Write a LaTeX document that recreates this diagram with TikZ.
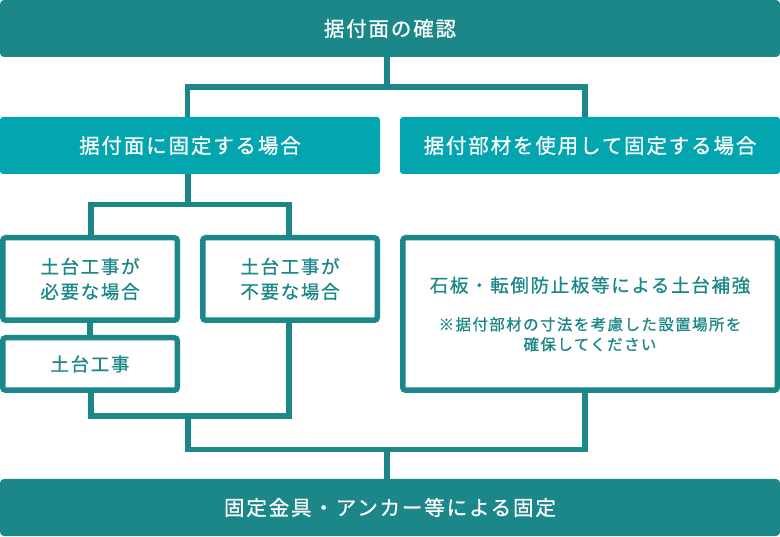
\documentclass[tikz,border=0pt]{standalone}
\usepackage{fontspec}
\setmainfont[LetterSpace=9, FakeBold=0.8]{Noto Sans CJK JP}
\usetikzlibrary{positioning}
\definecolor{darkteal}{RGB}{27,135,137}
\definecolor{brightteal}{RGB}{3,165,175}
\newcommand{\notefont}{\fontsize{15.5}{20}\selectfont}
\tikzset{
  headbar/.style={rectangle, rounded corners=4pt, fill=darkteal, text=white,
                  minimum width=780pt, minimum height=57pt, outer sep=0pt,
                  font=\fontsize{20.5}{26}\selectfont},
  casebar/.style={rectangle, rounded corners=3pt, fill=brightteal, text=white,
                  minimum width=380pt, minimum height=57pt, outer sep=0pt,
                  font=\fontsize{20.5}{26}\selectfont},
  stepbox/.style={rectangle, rounded corners=3pt, draw=darkteal, line width=5.5pt,
                  fill=white, text=darkteal, align=center,
                  font=\fontsize{18.5}{25}\selectfont},
  link/.style={draw=darkteal, line width=5.5pt},
}

\begin{document}
\begin{tikzpicture}[x=1pt, y=1pt]
  \useasboundingbox (0,0) rectangle (780,-537);

  \node[headbar, anchor=north west] (check) at (0,0) {据付面の確認};

  % two ways of fixing
  \node[casebar, below right=60pt and 0pt of check.south west] (surface)
    {据付面に固定する場合};
  \node[casebar, right=20pt of surface] (member)
    {据付部材を使用して固定する場合};

  \node[stepbox, minimum width=174.5pt, minimum height=82.5pt,
        below right=61pt and 0pt of surface.south west] (needed)
    {土台工事が\\必要な場合};
  \node[stepbox, minimum width=174.5pt, minimum height=82.5pt,
        right=20pt of needed] (notneeded)
    {土台工事が\\不要な場合};
  \node[stepbox, minimum width=174.5pt, minimum height=52.5pt,
        below=12pt of needed] (work) {土台工事};
  \node[stepbox, minimum width=374.5pt, minimum height=152.5pt,
        below right=61pt and 0pt of member.south west] (reinforce)
    {石板・転倒防止板等による土台補強\\[13pt]
     {\notefont ※据付部材の寸法を考慮した設置場所を}\\[-5pt]
     {\notefont 確保してください}};

  \node[headbar, below right=86pt and 0pt of work.south west] (fix)
    {固定金具・アンカー等による固定};

  % branches
  \coordinate (topjoin) at (387,-87);
  \coordinate (leftjoin) at (188,-204.5);
  \coordinate (lowjoin) at (188,-416);
  \coordinate (basejoin) at (387,-449.5);

  \draw[link] (check.south -| topjoin) -- (topjoin);
  \draw[link] ([xshift=-2.5pt]surface.north) |- (topjoin)
    -| ([xshift=-5pt]member.north);
  \draw[link] (surface.south -| leftjoin) -- (leftjoin);
  \draw[link] ([xshift=1pt]needed.north) |- (leftjoin)
    -| ([xshift=-1pt]notneeded.north);
  \draw[link] (needed) -- (work);

  % merge
  \draw[link] ([xshift=1pt]work.south) |- (lowjoin)
    -| ([xshift=-1pt]notneeded.south);
  \draw[link] (lowjoin) |- (basejoin) -| ([xshift=-5pt]reinforce.south);
  \draw[link] (basejoin) -- (basejoin |- fix.north);
\end{tikzpicture}
\end{document}
